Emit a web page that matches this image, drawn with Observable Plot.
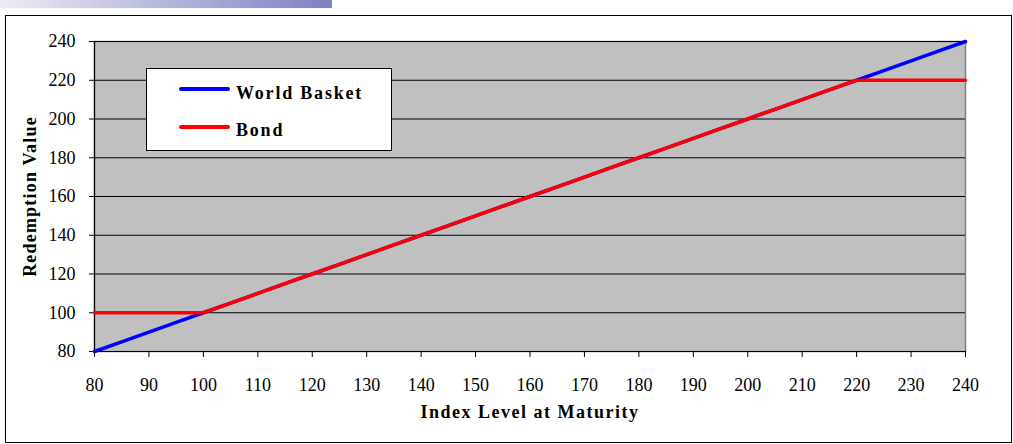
<!DOCTYPE html>
<html>
<head>
<meta charset="utf-8">
<script src="https://cdn.jsdelivr.net/npm/d3@7"></script>
<script src="https://cdn.jsdelivr.net/npm/@observablehq/plot@0.6"></script>
<style>
  html, body { margin: 0; padding: 0; background: #fff; }
  #wrap { position: relative; width: 1013px; height: 444px; overflow: hidden; font-family: "Liberation Serif", "DejaVu Serif", serif; }
  #bar { position: absolute; left: 0; top: 0; width: 332px; height: 8px; background: linear-gradient(to right, #ececf6, #8080c2); }
  #border { position: absolute; left: 5px; top: 15px; width: 1005px; height: 426px; border: 1.5px solid #000; box-sizing: content-box; }
  #chart { position: absolute; left: 0; top: 0; }
  #chart svg text { font-family: "Liberation Serif", "DejaVu Serif", serif !important; }
  #legend { position: absolute; left: 146px; top: 68px; width: 244px; height: 81px; background: #fff; border: 1.2px solid #000; font-weight: bold; font-size: 18px; letter-spacing: 1.8px; }
  .swatch { position: absolute; left: 32px; width: 51px; height: 3.5px; border-radius: 2px; }
  .lbl { position: absolute; left: 89px; height: 20px; line-height: 20px; white-space: nowrap; }
</style>
</head>
<body>
<div id="wrap">
  <div id="bar"></div>
  <div id="border"></div>
  <div id="chart"></div>
  <div id="legend"></div>
</div>
<script>
const indexLevels = [80, 85, 90, 95, 100, 105, 110, 115, 120, 125, 130, 135, 140, 145, 150, 155, 160, 165, 170, 175, 180, 185, 190, 195, 200, 205, 210, 215, 220, 225, 230, 235, 240];
const worldBasket = [80, 85, 90, 95, 100, 105, 110, 115, 120, 125, 130, 135, 140, 145, 150, 155, 160, 165, 170, 175, 180, 185, 190, 195, 200, 205, 210, 215, 220, 225, 230, 235, 240];
const bond = [100, 100, 100, 100, 100, 105, 110, 115, 120, 125, 130, 135, 140, 145, 150, 155, 160, 165, 170, 175, 180, 185, 190, 195, 200, 205, 210, 215, 220, 220, 220, 220, 220];
const xTicks = [80, 90, 100, 110, 120, 130, 140, 150, 160, 170, 180, 190, 200, 210, 220, 230, 240];
const yTicks = [80, 100, 120, 140, 160, 180, 200, 220, 240];
const seriesNames = ["World Basket", "Bond"];
const seriesColors = ["#0000ff", "#ff0000"];

const basketData = indexLevels.map((x, i) => ({x, y: worldBasket[i]}));
const bondData = indexLevels.map((x, i) => ({x, y: bond[i]}));

const chart = Plot.plot({
  width: 1013,
  height: 444,
  marginLeft: 94,
  marginRight: 48,
  marginTop: 41,
  marginBottom: 93,
  style: { fontFamily: "'Liberation Serif', 'DejaVu Serif', serif", fontSize: "18px", color: "#000", background: "transparent" },
  x: { domain: [80, 240] },
  y: { domain: [80, 240] },
  marks: [
    Plot.frame({ fill: "#c0c0c0", stroke: "#808080", strokeWidth: 1.5 }),
    Plot.gridY(yTicks, { stroke: "#000", strokeOpacity: 1, strokeWidth: 1 }),
    Plot.ruleX([80], { stroke: "#000", strokeWidth: 1.2 }),
    Plot.ruleY([80], { stroke: "#000", strokeWidth: 1.2 }),
    Plot.axisY(yTicks, { tickSize: 5, tickPadding: 14, label: null, fontSize: 18, stroke: "#000" }),
    Plot.axisX(xTicks, { tickSize: 6, tickPadding: 21, label: null, fontSize: 18, stroke: "#000" }),
    Plot.line(basketData, { x: "x", y: "y", stroke: seriesColors[0], strokeWidth: 3.5 }),
    Plot.line(bondData, { x: "x", y: "y", stroke: seriesColors[1], strokeWidth: 3.5 }),
    Plot.text(["Index Level at Maturity"], { frameAnchor: "bottom", dy: 66, fontWeight: "bold", fontSize: 18, fill: "#000", textAnchor: "middle" }),
    Plot.text(["Redemption Value"], { frameAnchor: "left", dx: -64, rotate: -90, fontWeight: "bold", fontSize: 18, fill: "#000", textAnchor: "middle" })
  ]
});
d3.select(chart).selectAll("text")
  .filter(function () { return this.textContent === "Index Level at Maturity"; })
  .style("letter-spacing", "1.5px");
d3.select(chart).selectAll("text")
  .filter(function () { return this.textContent === "Redemption Value"; })
  .style("letter-spacing", "1.2px");
document.getElementById("chart").appendChild(chart);

const legend = document.getElementById("legend");
const swTops = [18, 56];
const lblTops = [14, 51];
seriesNames.forEach((name, i) => {
  const sw = document.createElement("div");
  sw.className = "swatch";
  sw.style.top = swTops[i] + "px";
  sw.style.background = seriesColors[i];
  const label = document.createElement("div");
  label.className = "lbl";
  label.style.top = lblTops[i] + "px";
  label.textContent = name;
  legend.appendChild(sw);
  legend.appendChild(label);
});
</script>
</body>
</html>
